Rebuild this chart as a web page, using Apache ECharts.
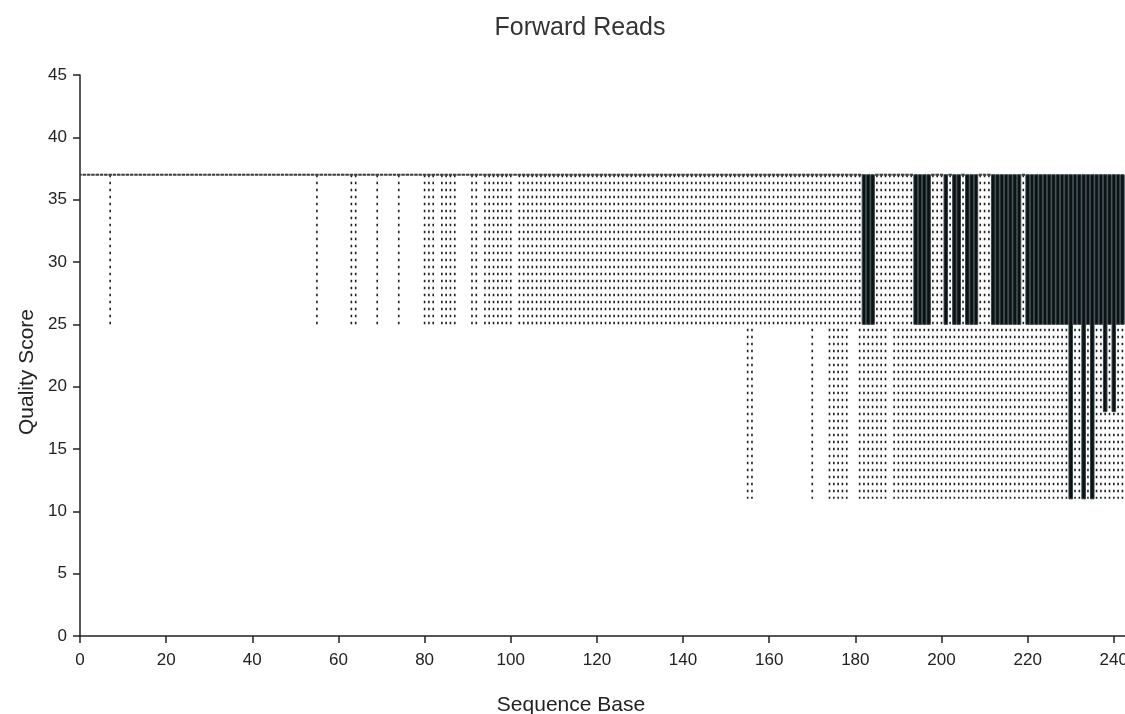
<!DOCTYPE html>
<html>
<head>
<meta charset="utf-8">
<script src="https://cdn.jsdelivr.net/npm/echarts@6/dist/echarts.min.js"></script>
<style>
html, body { margin: 0; padding: 0; background: #ffffff; overflow: hidden; }
#chart { width: 1125px; height: 714px; }
</style>
</head>
<body>
<div id="chart"></div>
<script>
// ---------------- data ----------------
const chartTitle = 'Forward Reads';
const xAxisTitle = 'Sequence Base';
const yAxisTitle = 'Quality Score';

const xTicks = [0, 20, 40, 60, 80, 100, 120, 140, 160, 180, 200, 220, 240];
const yTicks = [0, 5, 10, 15, 20, 25, 30, 35, 40, 45];

// sequence base positions
const bases = [
  0, 1, 2, 3, 4, 5, 6, 7, 8, 9, 10, 11, 12, 13, 14, 15, 16, 17, 18, 19,
  20, 21, 22, 23, 24, 25, 26, 27, 28, 29, 30, 31, 32, 33, 34, 35, 36, 37, 38, 39,
  40, 41, 42, 43, 44, 45, 46, 47, 48, 49, 50, 51, 52, 53, 54, 55, 56, 57, 58, 59,
  60, 61, 62, 63, 64, 65, 66, 67, 68, 69, 70, 71, 72, 73, 74, 75, 76, 77, 78, 79,
  80, 81, 82, 83, 84, 85, 86, 87, 88, 89, 90, 91, 92, 93, 94, 95, 96, 97, 98, 99,
  100, 101, 102, 103, 104, 105, 106, 107, 108, 109, 110, 111, 112, 113, 114, 115, 116, 117, 118, 119,
  120, 121, 122, 123, 124, 125, 126, 127, 128, 129, 130, 131, 132, 133, 134, 135, 136, 137, 138, 139,
  140, 141, 142, 143, 144, 145, 146, 147, 148, 149, 150, 151, 152, 153, 154, 155, 156, 157, 158, 159,
  160, 161, 162, 163, 164, 165, 166, 167, 168, 169, 170, 171, 172, 173, 174, 175, 176, 177, 178, 179,
  180, 181, 182, 183, 184, 185, 186, 187, 188, 189, 190, 191, 192, 193, 194, 195, 196, 197, 198, 199,
  200, 201, 202, 203, 204, 205, 206, 207, 208, 209, 210, 211, 212, 213, 214, 215, 216, 217, 218, 219,
  220, 221, 222, 223, 224, 225, 226, 227, 228, 229, 230, 231, 232, 233, 234, 235, 236, 237, 238, 239,
  240, 241, 242
];

// lower whisker (minimum quality) per base
const minScores = [
  37, 37, 37, 37, 37, 37, 37, 25, 37, 37, 37, 37, 37, 37, 37, 37, 37, 37, 37, 37,
  37, 37, 37, 37, 37, 37, 37, 37, 37, 37, 37, 37, 37, 37, 37, 37, 37, 37, 37, 37,
  37, 37, 37, 37, 37, 37, 37, 37, 37, 37, 37, 37, 37, 37, 37, 25, 37, 37, 37, 37,
  37, 37, 37, 25, 25, 37, 37, 37, 37, 25, 37, 37, 37, 37, 25, 37, 37, 37, 37, 37,
  25, 25, 25, 37, 25, 25, 25, 25, 37, 37, 37, 25, 25, 37, 25, 25, 25, 25, 25, 25,
  25, 37, 25, 25, 25, 25, 25, 25, 25, 25, 25, 25, 25, 25, 25, 25, 25, 25, 25, 25,
  25, 25, 25, 25, 25, 25, 25, 25, 25, 25, 25, 25, 25, 25, 25, 25, 25, 25, 25, 25,
  25, 25, 25, 25, 25, 25, 25, 25, 25, 25, 25, 25, 25, 25, 25, 11, 11, 25, 25, 25,
  25, 25, 25, 25, 25, 25, 25, 25, 25, 25, 11, 25, 25, 25, 11, 11, 11, 11, 11, 25,
  25, 11, 11, 11, 11, 11, 11, 11, 25, 11, 11, 11, 11, 11, 11, 11, 11, 11, 11, 11,
  11, 11, 11, 11, 11, 11, 11, 11, 11, 11, 11, 11, 11, 11, 11, 11, 11, 11, 11, 11,
  11, 11, 11, 11, 11, 11, 11, 11, 11, 11, 11, 11, 11, 11, 11, 11, 11, 11, 11, 11,
  11, 11, 11
];

// lower quartile per base
const q1Scores = [
  37, 37, 37, 37, 37, 37, 37, 37, 37, 37, 37, 37, 37, 37, 37, 37, 37, 37, 37, 37,
  37, 37, 37, 37, 37, 37, 37, 37, 37, 37, 37, 37, 37, 37, 37, 37, 37, 37, 37, 37,
  37, 37, 37, 37, 37, 37, 37, 37, 37, 37, 37, 37, 37, 37, 37, 37, 37, 37, 37, 37,
  37, 37, 37, 37, 37, 37, 37, 37, 37, 37, 37, 37, 37, 37, 37, 37, 37, 37, 37, 37,
  37, 37, 37, 37, 37, 37, 37, 37, 37, 37, 37, 37, 37, 37, 37, 37, 37, 37, 37, 37,
  37, 37, 37, 37, 37, 37, 37, 37, 37, 37, 37, 37, 37, 37, 37, 37, 37, 37, 37, 37,
  37, 37, 37, 37, 37, 37, 37, 37, 37, 37, 37, 37, 37, 37, 37, 37, 37, 37, 37, 37,
  37, 37, 37, 37, 37, 37, 37, 37, 37, 37, 37, 37, 37, 37, 37, 37, 37, 37, 37, 37,
  37, 37, 37, 37, 37, 37, 37, 37, 37, 37, 37, 37, 37, 37, 37, 37, 37, 37, 37, 37,
  37, 37, 25, 25, 25, 37, 37, 37, 37, 37, 37, 37, 37, 37, 25, 25, 25, 25, 37, 37,
  37, 25, 37, 25, 25, 37, 25, 25, 25, 37, 37, 37, 25, 25, 25, 25, 25, 25, 25, 37,
  25, 25, 25, 25, 25, 25, 25, 25, 25, 25, 11, 25, 25, 11, 25, 11, 25, 25, 18, 25,
  18, 25, 25
];

// upper quartile per base
const q3Scores = [
  37, 37, 37, 37, 37, 37, 37, 37, 37, 37, 37, 37, 37, 37, 37, 37, 37, 37, 37, 37,
  37, 37, 37, 37, 37, 37, 37, 37, 37, 37, 37, 37, 37, 37, 37, 37, 37, 37, 37, 37,
  37, 37, 37, 37, 37, 37, 37, 37, 37, 37, 37, 37, 37, 37, 37, 37, 37, 37, 37, 37,
  37, 37, 37, 37, 37, 37, 37, 37, 37, 37, 37, 37, 37, 37, 37, 37, 37, 37, 37, 37,
  37, 37, 37, 37, 37, 37, 37, 37, 37, 37, 37, 37, 37, 37, 37, 37, 37, 37, 37, 37,
  37, 37, 37, 37, 37, 37, 37, 37, 37, 37, 37, 37, 37, 37, 37, 37, 37, 37, 37, 37,
  37, 37, 37, 37, 37, 37, 37, 37, 37, 37, 37, 37, 37, 37, 37, 37, 37, 37, 37, 37,
  37, 37, 37, 37, 37, 37, 37, 37, 37, 37, 37, 37, 37, 37, 37, 37, 37, 37, 37, 37,
  37, 37, 37, 37, 37, 37, 37, 37, 37, 37, 37, 37, 37, 37, 37, 37, 37, 37, 37, 37,
  37, 37, 37, 37, 37, 37, 37, 37, 37, 37, 37, 37, 37, 37, 37, 37, 37, 37, 37, 37,
  37, 37, 37, 37, 37, 37, 37, 37, 37, 37, 37, 37, 37, 37, 37, 37, 37, 37, 37, 37,
  37, 37, 37, 37, 37, 37, 37, 37, 37, 37, 37, 37, 37, 37, 37, 37, 37, 37, 37, 37,
  37, 37, 37
];

// upper whisker (maximum quality) per base
const maxScores = [
  37, 37, 37, 37, 37, 37, 37, 37, 37, 37, 37, 37, 37, 37, 37, 37, 37, 37, 37, 37,
  37, 37, 37, 37, 37, 37, 37, 37, 37, 37, 37, 37, 37, 37, 37, 37, 37, 37, 37, 37,
  37, 37, 37, 37, 37, 37, 37, 37, 37, 37, 37, 37, 37, 37, 37, 37, 37, 37, 37, 37,
  37, 37, 37, 37, 37, 37, 37, 37, 37, 37, 37, 37, 37, 37, 37, 37, 37, 37, 37, 37,
  37, 37, 37, 37, 37, 37, 37, 37, 37, 37, 37, 37, 37, 37, 37, 37, 37, 37, 37, 37,
  37, 37, 37, 37, 37, 37, 37, 37, 37, 37, 37, 37, 37, 37, 37, 37, 37, 37, 37, 37,
  37, 37, 37, 37, 37, 37, 37, 37, 37, 37, 37, 37, 37, 37, 37, 37, 37, 37, 37, 37,
  37, 37, 37, 37, 37, 37, 37, 37, 37, 37, 37, 37, 37, 37, 37, 37, 37, 37, 37, 37,
  37, 37, 37, 37, 37, 37, 37, 37, 37, 37, 37, 37, 37, 37, 37, 37, 37, 37, 37, 37,
  37, 37, 37, 37, 37, 37, 37, 37, 37, 37, 37, 37, 37, 37, 37, 37, 37, 37, 37, 37,
  37, 37, 37, 37, 37, 37, 37, 37, 37, 37, 37, 37, 37, 37, 37, 37, 37, 37, 37, 37,
  37, 37, 37, 37, 37, 37, 37, 37, 37, 37, 37, 37, 37, 37, 37, 37, 37, 37, 37, 37,
  37, 37, 37
];

// ---------------- chart ----------------
const FONT = "'Liberation Sans', Arial, Helvetica, sans-serif";
const TEXT_COLOR = '#222222';

const boxData = bases.map((b, i) => [b, minScores[i], q1Scores[i], q3Scores[i], maxScores[i]]);

function renderBox(params, api) {
  const b = api.value(0);
  const mn = api.value(1), q1 = api.value(2), q3 = api.value(3), mx = api.value(4);
  const w = api.size([1, 0])[0];
  const cx = api.coord([b, mx])[0];
  const yMax = api.coord([b, mx])[1];
  const yMin = api.coord([b, mn])[1];
  const yQ1 = api.coord([b, q1])[1];
  const yQ3 = api.coord([b, q3])[1];
  const boxW = w * 0.82;
  const children = [];
  if (mn < mx) {
    children.push({
      type: 'line',
      shape: { x1: cx, y1: yMax, x2: cx, y2: yMin },
      style: { stroke: '#1e1e1e', lineWidth: 1.6, lineDash: [2.4, 4.6] }
    });
  }
  if (q1 < q3) {
    children.push({
      type: 'rect',
      shape: { x: cx - boxW / 2, y: yQ3, width: boxW, height: yQ1 - yQ3 },
      style: { fill: '#0d1113', stroke: '#33464b', lineWidth: 1 }
    });
  } else {
    children.push({
      type: 'line',
      shape: { x1: cx - boxW / 2, y1: yQ3, x2: cx + boxW / 2, y2: yQ3 },
      style: { stroke: '#3c3c3c', lineWidth: 2 }
    });
  }
  return { type: 'group', children: children };
}

const chart = echarts.init(document.getElementById('chart'), null, { renderer: 'canvas' });

chart.setOption({
  animation: false,
  backgroundColor: '#ffffff',
  grid: { left: 80, right: 0, top: 75, bottom: 78, containLabel: false, outerBoundsMode: 'none' },
  xAxis: {
    type: 'value',
    min: 0,
    max: 242.6,
    axisLine: { show: true, lineStyle: { color: '#222', width: 1.5 } },
    axisTick: { show: true, length: 7, customValues: xTicks, lineStyle: { color: '#222', width: 1.5 } },
    axisLabel: { customValues: xTicks, margin: 16, fontSize: 17, color: TEXT_COLOR, fontFamily: FONT },
    splitLine: { show: false }
  },
  yAxis: {
    type: 'value',
    min: 0,
    max: 45,
    interval: 5,
    axisLine: { show: true, lineStyle: { color: '#222', width: 1.5 } },
    axisTick: { show: true, length: 7, lineStyle: { color: '#222', width: 1.5 } },
    axisLabel: { margin: 13, fontSize: 17, color: TEXT_COLOR, fontFamily: FONT,
      customValues: yTicks },
    splitLine: { show: false }
  },
  graphic: [
    { type: 'text', x: 580, y: 28, style: { text: chartTitle, font: '25px ' + FONT, fill: '#333', textAlign: 'center', textVerticalAlign: 'middle' } },
    { type: 'text', x: 571, y: 705, style: { text: xAxisTitle, font: '21px ' + FONT, fill: '#222', textAlign: 'center', textVerticalAlign: 'middle' } },
    { type: 'text', x: 27, y: 372, rotation: Math.PI / 2, style: { text: yAxisTitle, font: '21px ' + FONT, fill: '#222', textAlign: 'center', textVerticalAlign: 'middle' } }
  ],
  series: [{
    type: 'custom',
    clip: true,
    renderItem: renderBox,
    encode: { x: 0, y: [1, 2, 3, 4] },
    data: boxData
  }]
});
</script>
</body>
</html>
